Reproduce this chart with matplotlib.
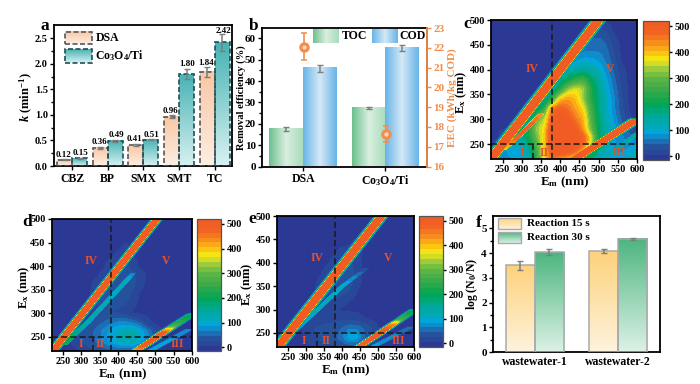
import numpy as np
import matplotlib
matplotlib.use("Agg")
import matplotlib.pyplot as plt
from matplotlib.colors import LinearSegmentedColormap
from matplotlib.patches import Rectangle

plt.rcParams['font.family'] = ['Liberation Serif', 'DejaVu Serif']
plt.rcParams['font.weight'] = 'bold'
plt.rcParams['axes.labelweight'] = 'bold'
plt.rcParams['mathtext.fontset'] = 'custom'
plt.rcParams['mathtext.rm'] = 'Liberation Serif:bold'
plt.rcParams['mathtext.it'] = 'Liberation Serif:italic:bold'
plt.rcParams['mathtext.default'] = 'rm'

W, H = 700, 384

# panel a
a_cats = ["CBZ", "BP", "SMX", "SMT", "TC"]
a_dsa = [0.12, 0.36, 0.41, 0.96, 1.84]
a_dsa_err = [0.01, 0.02, 0.02, 0.03, 0.09]
a_co = [0.15, 0.49, 0.51, 1.80, 2.42]
a_co_err = [0.01, 0.02, 0.01, 0.10, 0.17]

# panel b
b_cats = ["DSA", "Co$_3$O$_4$/Ti"]
b_toc = [17.5, 27.5]
b_toc_err = [1.0, 0.4]
b_cod = [46.0, 55.4]
b_cod_err = [1.6, 1.5]
b_eec = [22.06, 17.63]
b_eec_err = [0.67, 0.40]

# panel f
f_cats = ["wastewater-1", "wastewater-2"]
f_15 = [3.50, 4.08]
f_15_err = [0.17, 0.08]
f_30 = [4.03, 4.57]
f_30_err = [0.12, 0.06]

# EEM maps, read on a 20 nm grid, rows from Ex 500 down to Ex 220
em_grid = np.arange(220, 601, 20)
ex_grid = np.arange(500, 219, -20)

field_c = np.array([
    [0, 0, 0, 0, 0, 0, 0, 0, 0, 0, 0, 0, 0, 0, 0, 0, 0, 0, 0, 0],
    [0, 0, 0, 0, 0, 0, 0, 0, 0, 0, 0, 0, 0, 0, 30, 20, 0, 0, 0, 0],
    [0, 0, 0, 0, 0, 0, 0, 0, 0, 0, 0, 0, 0, 50, 50, 40, 10, 0, 0, 0],
    [0, 0, 0, 0, 0, 0, 0, 0, 0, 0, 0, 0, 60, 60, 60, 50, 20, 0, 0, 0],
    [0, 0, 0, 0, 0, 0, 0, 0, 0, 0, 0, 80, 90, 90, 80, 60, 30, 0, 0, 0],
    [0, 0, 0, 0, 0, 0, 0, 0, 0, 0, 120, 130, 150, 130, 110, 70, 40, 10, 0, 0],
    [0, 0, 0, 0, 0, 0, 0, 0, 0, 150, 190, 240, 260, 190, 140, 90, 50, 15, 0, 0],
    [0, 0, 0, 0, 0, 0, 0, 0, 140, 230, 330, 370, 340, 230, 160, 100, 60, 20, 0, 0],
    [0, 0, 0, 0, 0, 0, 0, 150, 250, 400, 430, 400, 330, 230, 170, 110, 70, 25, 0, 0],
    [0, 0, 0, 0, 0, 0, 180, 260, 470, 500, 460, 420, 380, 260, 170, 110, 70, 30, 0, 0],
    [0, 0, 0, 0, 0, 150, 300, 350, 500, 530, 510, 450, 410, 280, 180, 120, 80, 40, 10, 0],
    [0, 0, 0, 0, 160, 230, 340, 380, 540, 550, 540, 500, 420, 300, 190, 130, 90, 60, 30, 10],
    [0, 0, 100, 110, 140, 210, 300, 400, 530, 560, 560, 540, 500, 380, 200, 130, 90, 70, 60, 60],
    [0, 80, 85, 100, 105, 150, 270, 400, 520, 560, 540, 500, 420, 280, 170, 110, 80, 70, 90, 110],
    [70, 75, 80, 85, 85, 120, 250, 380, 460, 420, 400, 350, 250, 130, 100, 90, 100, 110, 120, 110],
])

field_d = np.array([
    [0, 0, 0, 0, 0, 0, 0, 0, 0, 0, 0, 0, 0, 0, 0, 0, 0, 0, 0, 0],
    [0, 0, 0, 0, 0, 0, 0, 0, 0, 0, 0, 0, 0, 0, 0, 0, 0, 0, 0, 0],
    [0, 0, 0, 0, 0, 0, 0, 0, 0, 0, 0, 0, 0, 0, 0, 0, 0, 0, 0, 0],
    [0, 0, 0, 0, 0, 0, 0, 0, 0, 0, 10, 0, 0, 0, 0, 0, 0, 0, 0, 0],
    [0, 0, 0, 0, 0, 0, 0, 0, 0, 15, 20, 5, 0, 0, 0, 0, 0, 0, 0, 0],
    [0, 0, 0, 0, 0, 0, 0, 0, 20, 30, 30, 15, 0, 0, 0, 0, 0, 0, 0, 0],
    [0, 0, 0, 0, 0, 0, 0, 15, 30, 40, 40, 30, 15, 0, 0, 0, 0, 0, 0, 0],
    [0, 0, 0, 0, 0, 0, 15, 30, 35, 40, 35, 30, 10, 0, 0, 0, 0, 0, 0, 0],
    [0, 0, 0, 0, 0, 0, 20, 30, 40, 35, 35, 20, 0, 0, 0, 0, 0, 0, 0, 0],
    [0, 0, 0, 0, 0, 10, 25, 30, 30, 30, 25, 10, 0, 0, 0, 0, 0, 0, 0, 0],
    [0, 0, 0, 0, 0, 10, 20, 25, 25, 20, 15, 0, 0, 0, 0, 0, 0, 0, 0, 0],
    [0, 0, 0, 0, 20, 30, 35, 45, 60, 70, 70, 60, 40, 10, 0, 0, 0, 0, 0, 0],
    [0, 0, 0, 15, 30, 40, 50, 75, 95, 115, 135, 135, 105, 70, 30, 0, 0, 0, 0, 0],
    [0, 0, 0, 10, 25, 35, 45, 70, 90, 105, 120, 120, 95, 60, 25, 0, 0, 0, 0, 0],
    [0, 0, 0, 0, 10, 15, 25, 30, 35, 40, 40, 30, 15, 0, 0, 0, 0, 0, 0, 0],
])

field_e = np.array([
    [0, 0, 0, 0, 0, 0, 0, 0, 0, 0, 0, 0, 0, 0, 0, 0, 0, 0, 0, 0],
    [0, 0, 0, 0, 0, 0, 0, 0, 0, 0, 0, 0, 0, 0, 0, 0, 0, 0, 0, 0],
    [0, 0, 0, 0, 0, 0, 0, 0, 0, 0, 0, 0, 0, 0, 0, 0, 0, 0, 0, 0],
    [0, 0, 0, 0, 0, 0, 0, 0, 0, 0, 0, 15, 5, 0, 0, 0, 0, 0, 0, 0],
    [0, 0, 0, 0, 0, 0, 0, 0, 0, 15, 25, 20, 0, 0, 0, 0, 0, 0, 0, 0],
    [0, 0, 0, 0, 0, 0, 0, 0, 20, 30, 30, 15, 0, 0, 0, 0, 0, 0, 0, 0],
    [0, 0, 0, 0, 0, 0, 0, 15, 30, 35, 35, 20, 0, 0, 0, 0, 0, 0, 0, 0],
    [0, 0, 0, 0, 0, 0, 10, 25, 35, 40, 35, 15, 0, 0, 0, 0, 0, 0, 0, 0],
    [0, 0, 0, 0, 0, 0, 15, 30, 35, 35, 25, 5, 0, 0, 0, 0, 0, 0, 0, 0],
    [0, 0, 0, 0, 0, 5, 20, 25, 25, 15, 5, 0, 0, 0, 0, 0, 0, 0, 0, 0],
    [0, 0, 0, 0, 5, 10, 15, 15, 10, 0, 0, 0, 0, 0, 0, 0, 0, 0, 0, 0],
    [0, 0, 0, 0, 0, 5, 10, 15, 20, 20, 20, 15, 5, 0, 0, 0, 0, 0, 0, 0],
    [0, 0, 0, 0, 10, 25, 30, 35, 35, 45, 60, 60, 45, 30, 5, 0, 0, 0, 0, 0],
    [0, 0, 0, 0, 5, 20, 30, 35, 40, 60, 100, 100, 50, 25, 5, 0, 0, 0, 0, 0],
    [0, 0, 0, 0, 0, 5, 10, 15, 20, 20, 25, 20, 5, 0, 0, 0, 0, 0, 0, 0],
])

# scatter ridges: Em, Ex, peak intensity along the ridge, half width in nm
ridge_offset = [-1.0, -0.7, -0.42, 0, 0.42, 0.7, 1.0]
ridge_profile = [0, 0.24, 1, 1, 1, 0.24, 0]

ridges_c = [
    ([220, 500], [220, 500], [620, 620], 22),
    ([255, 300, 350], [240, 272, 310], [390, 510, 430], 12),
    ([438, 600], [220, 300], [620, 620], 24),
    ([520, 600], [225, 270], [120, 150], 13),
]
ridges_d = [
    ([222, 505], [220, 500], [580, 560], 17),
    ([255, 318, 423, 440], [235, 282, 370, 385], [210, 130, 110, 60], 11),
    ([450, 480, 520, 550, 600], [222, 237, 258, 273, 298], [420, 540, 510, 270, 170], 19),
    ([490, 590], [222, 265], [100, 70], 14),
]
ridges_e = [
    ([222, 510], [220, 500], [620, 620], 21),
    ([270, 330, 400, 465], [255, 298, 349, 387], [90, 110, 110, 30], 11),
    ([450, 500, 540, 560, 600], [222, 247, 268, 278, 299], [470, 540, 440, 270, 170], 18),
    ([490, 590], [222, 262], [90, 50], 14),
]

# colour bar anchors
cmap_vals = [-15, 0, 40, 60, 90, 115, 150, 200, 250, 300, 340, 370, 400, 430, 470, 520]
cmap_cols = ["#2e3192", "#2b3f96", "#24569f", "#1b75bc", "#00a5e0", "#00a9b5", "#00a99d", "#00a651",
             "#39a94a", "#5db646", "#a6ce39", "#f5ea14", "#fdc010", "#f7941d", "#f26522", "#f15a24"]
eem_levels = np.arange(-15, 526, 20)

red = "#e8502a"
edge = "#55585c"
err_col = "#7d7d7d"

fig = plt.figure(figsize=(W / 100, H / 100), dpi=100)


def px_axes(x0, y0, x1, y1):
    ax = fig.add_axes([x0 / W, 1 - y1 / H, (x1 - x0) / W, (y1 - y0) / H])
    for s in ax.spines.values():
        s.set_linewidth(1.3)
    return ax


def grad(ax, x0, x1, y0, y1, cols, vertical=True, **kw):
    cm = LinearSegmentedColormap.from_list("g", cols)
    g = np.linspace(0, 1, 64)
    g = g[:, None] if vertical else g[None, :]
    ax.imshow(g, extent=(x0, x1, y0, y1), origin="upper" if vertical else "lower", aspect="auto",
              cmap=cm, vmin=0, vmax=1, zorder=2, **kw)


def errs(ax, x, y, e, col=err_col):
    ax.errorbar(x, y, yerr=e, fmt="none", ecolor=col, elinewidth=1.1, capsize=2, capthick=1.0, zorder=5)


def panel_label(s, x, y):
    fig.text(x / W, 1 - y / H, s, fontsize=12.5, ha="center", va="center")


# --- a ---
ax = px_axes(54, 25, 232, 166)
x = np.arange(len(a_cats))
bw = 0.42
dsa_cols = ["#f9c7a4", "#fdeee3"]
co_cols = ["#47b3b4", "#d8f1f1"]
for i in x:
    grad(ax, i - bw, i, 0, a_dsa[i], dsa_cols)
    grad(ax, i, i + bw, 0, a_co[i], co_cols)
    ax.add_patch(Rectangle((i - bw, 0), bw, a_dsa[i], fill=False, ec=edge, lw=1.2, ls=(0, (3, 1.5)), zorder=3))
    ax.add_patch(Rectangle((i, 0), bw, a_co[i], fill=False, ec="#1f4f55", lw=1.2, ls=(0, (3, 1.5)), zorder=3))
    ax.text(i - bw / 2 - 0.03, a_dsa[i] + a_dsa_err[i] + 0.09, "%.2f" % a_dsa[i], fontsize=6.5, ha="center", va="center", zorder=6)
    ax.text(i + bw / 2 + 0.02, min(a_co[i] + a_co_err[i] + 0.09, 2.65), "%.2f" % a_co[i], fontsize=6.5, ha="center", va="center", zorder=6)
errs(ax, x - bw / 2, a_dsa, a_dsa_err)
errs(ax, x + bw / 2, a_co, a_co_err)
tr = ax.transAxes
grad(ax, 0.062, 0.212, 0.863, 0.953, dsa_cols, transform=tr)
grad(ax, 0.062, 0.212, 0.733, 0.832, co_cols, transform=tr)
ax.add_patch(Rectangle((0.062, 0.863), 0.15, 0.09, fill=False, ec=edge, lw=1.2, ls=(0, (3, 1.5)), transform=tr, zorder=3))
ax.add_patch(Rectangle((0.062, 0.733), 0.15, 0.099, fill=False, ec="#1f4f55", lw=1.2, ls=(0, (3, 1.5)), transform=tr, zorder=3))
ax.text(0.232, 0.906, "DSA", fontsize=8.5, transform=tr, va="center")
ax.text(0.232, 0.785, "Co$_3$O$_4$/Ti", fontsize=8.5, transform=tr, va="center")
ax.set_xlim(-0.505, 4.48)
ax.set_ylim(0, 2.76)
ax.set_xticks(x)
ax.set_xticklabels(a_cats, fontsize=8.5)
ax.set_yticks(np.arange(0, 2.6, 0.5))
ax.set_yticks(np.arange(0.25, 2.6, 0.5), minor=True)
ax.tick_params(axis="y", labelsize=7.5, length=3, width=1, pad=1.5)
ax.tick_params(axis="y", which="minor", length=2, width=1)
ax.tick_params(axis="x", length=3, width=1, pad=2)
ax.set_ylabel(r"$\mathit{k}$ (min$^{-1}$)", fontsize=9)
ax.yaxis.set_label_coords(-0.105, 0.49)
panel_label("a", 45, 26)

# --- b ---
ax = px_axes(262, 28, 427, 166.5)
x = np.arange(len(b_cats))
bw = 0.41
for i in x:
    grad(ax, i - bw, i, 0, b_toc[i], ["#6dc08f", "#d9efe0", "#a9dcbc"], vertical=False)
    grad(ax, i, i + bw, 0, b_cod[i], ["#68b5e8", "#d5e9f7", "#68b5e8"], vertical=False)
errs(ax, x - bw / 2, b_toc, b_toc_err)
errs(ax, x + bw / 2, b_cod, b_cod_err)
tr = ax.transAxes
grad(ax, 0.31, 0.465, 0.894, 0.99, ["#6dc08f", "#d9efe0", "#a9dcbc"], vertical=False, transform=tr)
grad(ax, 0.665, 0.82, 0.894, 0.99, ["#68b5e8", "#d5e9f7", "#68b5e8"], vertical=False, transform=tr)
ax.text(0.483, 0.94, "TOC", fontsize=8.5, transform=tr, va="center", zorder=6)
ax.text(0.835, 0.94, "COD", fontsize=8.5, transform=tr, va="center", zorder=6)
ax.set_xlim(-0.5, 1.506)
ax.set_ylim(0, 64.8)
ax.set_xticks(x)
ax.set_xticklabels(b_cats, fontsize=8.5)
ax.set_yticks(np.arange(0, 61, 10))
ax.set_yticks(np.arange(5, 61, 10), minor=True)
ax.tick_params(axis="y", labelsize=8, length=3, width=1, pad=1.5)
ax.tick_params(axis="y", which="minor", length=2, width=1)
ax.tick_params(axis="x", length=3, width=1, pad=2)
ax.set_ylabel("Removal efficiency (%)", fontsize=7.6)
ax.yaxis.set_label_coords(-0.1, 0.5)
ax2 = ax.twinx()
orange = "#f28e4b"
ax2.errorbar(x + 0.005, b_eec, yerr=b_eec_err, fmt="o", color=orange, ms=6.5, mec=orange, mfc=orange,
             elinewidth=1.2, capsize=2.2, capthick=1.1, zorder=8)
ax2.plot(x + 0.005, b_eec, "o", ms=2, color="#fbd9c0", zorder=9)
ax2.set_ylim(16, 23)
ax2.set_yticks(np.arange(16, 24))
ax2.tick_params(axis="y", labelsize=8, length=3, width=1, pad=1.5, colors=orange)
ax2.set_ylabel("EEC (kWh/kg COD)", fontsize=8, color=orange)
ax2.yaxis.set_label_coords(1.125, 0.5)
ax2.spines["right"].set_color(orange)
ax2.spines["right"].set_linewidth(1.3)
for s in ("top", "left", "bottom"):
    ax2.spines[s].set_visible(False)
panel_label("b", 254, 26)


# --- c, d, e ---
def eem(field, ridges, box, cbox, roman, ylab_x, lab_fs=8):
    em_f = np.arange(220, 601, 1)
    ex_f = np.arange(220, 501, 1)
    rows = np.array([np.interp(em_f, em_grid, r) for r in field[::-1]])
    z = np.array([np.interp(ex_f, ex_grid[::-1], rows[:, j]) for j in range(len(em_f))]).T
    # soften the 20 nm grid a little
    k = np.ones(13) / 13
    z = np.apply_along_axis(lambda v: np.convolve(np.pad(v, 6, mode="edge"), k, mode="valid"), 0, z)
    z = np.apply_along_axis(lambda v: np.convolve(np.pad(v, 6, mode="edge"), k, mode="valid"), 1, z)
    EM, EX = np.meshgrid(em_f, ex_f)
    for r_em, r_ex, r_peak, r_w in ridges:
        centre = np.interp(EX, r_ex, r_em)
        peak = np.interp(EX, r_ex, r_peak, left=0, right=0)
        z = np.maximum(z, peak * np.interp((EM - centre) / r_w, ridge_offset, ridge_profile))
    z = np.clip(z, -15, 519)

    norm_pos = [(v - cmap_vals[0]) / (cmap_vals[-1] - cmap_vals[0]) for v in cmap_vals]
    cm = LinearSegmentedColormap.from_list("eem", list(zip(norm_pos, cmap_cols)))
    ax = px_axes(*box)
    cs = ax.contourf(EM, EX, z, levels=eem_levels, cmap=cm, vmin=-15, vmax=520)
    ax.plot([380, 380], [220, 500], color="#1a1a1a", lw=1.1, ls=(0, (4, 2)))
    ax.plot([220, 600], [250, 250], color="#1a1a1a", lw=1.1, ls=(0, (4, 2)))
    ax.plot([330, 330], [220, 250], color="#1a1a1a", lw=1.1, ls=(0, (4, 2)))
    ax.set_xlim(220, 600)
    ax.set_ylim(220, 500)
    ax.set_xticks(np.arange(250, 601, 50))
    ax.set_yticks(np.arange(250, 501, 50))
    ax.tick_params(labelsize=7.3, length=3, width=1, pad=1.5)
    ax.set_xlabel("E$_m$ (nm)", fontsize=9.5, labelpad=0)
    ax.set_ylabel("E$_x$ (nm)", fontsize=9)
    ax.yaxis.set_label_coords(ylab_x, 0.48)
    for s, xt, yt in roman:
        ax.text(xt, yt, s, color=red, fontsize=lab_fs, ha="center", va="center")

    cax = px_axes(*cbox)
    cb = fig.colorbar(cs, cax=cax)
    cax.set_ylim(-15, 520)
    cb.set_ticks(np.arange(0, 501, 100))
    cax.tick_params(labelsize=7.3, length=2.5, width=1, pad=1.5)
    cb.outline.set_linewidth(0.9)
    cb.outline.set_edgecolor("#555555")
    return ax


eem(field_c, ridges_c, (491, 20, 637, 159), (643, 21, 669, 160),
    [("I", 300, 233), ("II", 358, 233), ("III", 553, 233), ("IV", 326, 402), ("V", 530, 402)], -0.15, 8.5)
panel_label("c", 467, 24)

eem(field_d, ridges_d, (52, 219, 192, 351), (197, 219, 221, 351),
    [("I", 298, 235), ("II", 351, 235), ("III", 560, 235), ("IV", 325, 410), ("V", 530, 410)], -0.145, 8.5)
panel_label("d", 27, 222)

eem(field_e, ridges_e, (277, 216, 414, 347), (419, 216, 443, 347),
    [("I", 295, 232), ("II", 356, 232), ("III", 558, 232), ("IV", 330, 410), ("V", 527, 410)], -0.16, 8.5)
panel_label("e", 252, 219)

# --- f ---
ax = px_axes(493, 216, 660, 352)
x = np.arange(len(f_cats))
bw = 0.35
f15_cols = ["#fdd27c", "#fef3dd"]
f30_cols = ["#4db680", "#dcf1e5"]
for i in x:
    grad(ax, i - bw, i, 0, f_15[i], f15_cols)
    grad(ax, i, i + bw, 0, f_30[i], f30_cols)
    ax.add_patch(Rectangle((i - bw, 0), bw, f_15[i], fill=False, ec="#a9a9a9", lw=1.1, zorder=3))
    ax.add_patch(Rectangle((i, 0), bw, f_30[i], fill=False, ec="#a9a9a9", lw=1.1, zorder=3))
errs(ax, x - bw / 2, f_15, f_15_err)
errs(ax, x + bw / 2, f_30, f_30_err)
tr = ax.transAxes
grad(ax, 0.032, 0.168, 0.905, 0.985, f15_cols, transform=tr)
grad(ax, 0.032, 0.168, 0.80, 0.88, f30_cols, transform=tr)
ax.add_patch(Rectangle((0.032, 0.905), 0.136, 0.08, fill=False, ec="#a9a9a9", lw=1, transform=tr, zorder=3))
ax.add_patch(Rectangle((0.032, 0.80), 0.136, 0.08, fill=False, ec="#a9a9a9", lw=1, transform=tr, zorder=3))
ax.text(0.205, 0.945, "Reaction 15 s", fontsize=8, transform=tr, va="center")
ax.text(0.205, 0.84, "Reaction 30 s", fontsize=8, transform=tr, va="center")
ax.set_xlim(-0.5, 1.5)
ax.set_ylim(0, 5.5)
ax.set_xticks(x)
ax.set_xticklabels(f_cats, fontsize=8.5)
ax.set_yticks(np.arange(0, 6))
ax.set_yticks(np.arange(0.5, 5.1, 1), minor=True)
ax.tick_params(axis="y", labelsize=8, length=3, width=1, pad=1.5)
ax.tick_params(axis="y", which="minor", length=2, width=1)
ax.tick_params(axis="x", length=0, pad=3)
ax.set_ylabel("log (N$_0$/N)", fontsize=8.5)
ax.yaxis.set_label_coords(-0.078, 0.5)
panel_label("f", 479, 223)

fig.savefig("out.png", dpi=100)
